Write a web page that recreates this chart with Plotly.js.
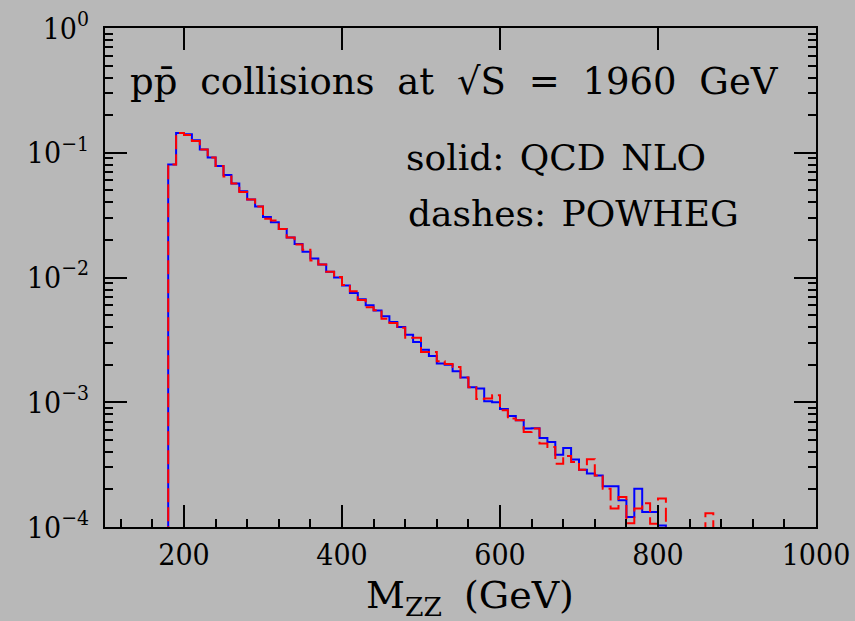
<!DOCTYPE html>
<html>
<head>
<meta charset="utf-8">
<script src="https://cdn.plot.ly/plotly-3.0.1.min.js"></script>
<style>
html,body{margin:0;padding:0;background:#b8b8b8;}
#chart{width:855px;height:621px;}
.annotation[data-index="0"] text{word-spacing:11px;}
.annotation[data-index="1"] text{word-spacing:4px;}
.annotation[data-index="2"] text{word-spacing:4px;}
.annotation[data-index="3"] text{word-spacing:10px;}
</style>
</head>
<body>
<div id="chart"></div>
<script>
// Lower edges of the 10 GeV M_ZZ bins (GeV)
const binLow = [180,190,200,210,220,230,240,250,260,270,280,290,300,310,320,330,340,350,360,370,
  380,390,400,410,420,430,440,450,460,470,480,490,500,510,520,530,540,550,560,570,
  580,590,600,610,620,630,640,650,660,670,680,690,700,710,720,730,740,750,760,770,
  780,790,800,810,820,830,840,850,860];
const binWidth = 10;

// QCD NLO (solid blue)
const nloValues = [0.0804,0.144,0.141,0.126,0.106,0.0914,0.0783,0.0664,0.0566,0.0491,
  0.0421,0.0370,0.0305,0.0277,0.0245,0.0209,0.0186,0.0161,0.0142,0.0127,
  0.0111,0.0100,0.00861,0.00750,0.00668,0.00598,0.00543,0.00490,0.00440,0.00401,
  0.00347,0.00304,0.00264,0.00235,0.00204,0.00200,0.00177,0.00158,0.00132,0.00129,
  0.00102,0.00100,0.000881,0.000776,0.000716,0.000615,0.000619,0.000516,0.000480,0.000380,
  0.000430,0.000347,0.000288,0.000268,0.000259,0.000212,0.000212,0.000164,0.000120,0.000203,
  0.000132,0.000132,0.000103];

// POWHEG (dashed red)
const powhegValues = [0.0804,0.144,0.139,0.124,0.106,0.0914,0.0783,0.0644,0.0566,0.0485,
  0.0421,0.0370,0.0296,0.0287,0.0245,0.0209,0.0184,0.0167,0.0137,0.0127,
  0.0111,0.0101,0.00871,0.00776,0.00661,0.00578,0.00547,0.00468,0.00432,0.00396,
  0.00329,0.00329,0.00253,0.00253,0.00213,0.00203,0.00192,0.00158,0.00132,0.00106,
  0.00107,0.00114,0.000861,0.000740,0.000716,0.000578,0.000615,0.000466,0.000438,0.000322,
  0.000371,0.000332,0.000288,0.000349,0.000259,0.000203,0.000141,0.000174,0.000107,0.000141,
  0.000155,0.000106,0.000169,0,0,0,0,0,0.000129];

const yTickVals = [1e-4,1e-3,1e-2,1e-1,1];
const yTickText = ['10<sup>−4</sup>','10<sup>−3</sup>','10<sup>−2</sup>','10<sup>−1</sup>','10<sup>0</sup>'];

const FLOOR = 1e-7; // below the visible range, used for empty bins / histogram ends
function stepXY(vals){
  const xs=[binLow[0]], ys=[FLOOR];
  for(let i=0;i<vals.length;i++){ xs.push(binLow[i]); ys.push(vals[i]>0?vals[i]:FLOOR); }
  xs.push(binLow[vals.length-1]+binWidth); ys.push(FLOOR);
  return {xs, ys};
}
const nlo = stepXY(nloValues), pw = stepXY(powhegValues);

const minorY=[];
for(let e=-4;e<0;e++){ for(let d=2;d<=9;d++){ minorY.push(d*Math.pow(10,e)); } }

const tickFont = {family:'DejaVu Serif Condensed, DejaVu Serif', size:30, color:'black'};
const txtFont = {family:'DejaVu Serif', size:37, color:'black'};
const txtFont2 = {family:'DejaVu Serif', size:36, color:'black'};

const traces = [
  {x:nlo.xs, y:nlo.ys, type:'scatter', mode:'lines', line:{shape:'hv', color:'#0000ff', width:2}, hoverinfo:'skip'},
  {x:pw.xs, y:pw.ys, type:'scatter', mode:'lines', line:{shape:'hv', color:'#ff0000', width:2, dash:'14px,5px'}, hoverinfo:'skip'},
  {x:[], y:[], xaxis:'x2', type:'scatter', mode:'lines', showlegend:false}
];

const layout = {
  width:855, height:621,
  margin:{l:105, r:39, t:28, b:94},
  paper_bgcolor:'#b8b8b8', plot_bgcolor:'#b8b8b8',
  showlegend:false,
  font:{family:'DejaVu Serif', color:'black'},
  xaxis:{range:[100,1000], tickmode:'linear', tick0:0, dtick:200,
    ticks:'inside', ticklen:22, tickwidth:2, tickcolor:'black',
    showline:true, linewidth:2, linecolor:'black', mirror:true,
    showgrid:false, zeroline:false, tickfont:tickFont, ticklabelstandoff:0,
    minor:{tickmode:'linear', tick0:0, dtick:40, ticks:'inside', ticklen:8, tickwidth:2, tickcolor:'black', showgrid:false}},
  xaxis2:{range:[100,1000], overlaying:'x', side:'top', anchor:'y', tickmode:'linear', tick0:0, dtick:200,
    ticks:'inside', ticklen:22, tickwidth:2, tickcolor:'black', showticklabels:false,
    showline:false, showgrid:false, zeroline:false},
  yaxis:{type:'log', range:[-4,0], tickmode:'array', tickvals:yTickVals, ticktext:yTickText,
    ticks:'inside', ticklen:22, tickwidth:2, tickcolor:'black',
    showline:true, linewidth:2, linecolor:'black', mirror:'ticks',
    showgrid:false, zeroline:false, tickfont:tickFont, ticklabelstandoff:8,
    minor:{tickmode:'array', tickvals:minorY, ticks:'inside', ticklen:8, tickwidth:2, tickcolor:'black', showgrid:false}},
  annotations:[
    {text:'pp̄ collisions at √S = 1960 GeV', xref:'paper', yref:'paper', x:0.079, y:0.892, xanchor:'left', yanchor:'middle', showarrow:false, font:txtFont},
    {text:'solid: QCD NLO', xref:'paper', yref:'paper', x:0.426, y:0.741, xanchor:'left', yanchor:'middle', showarrow:false, font:txtFont2},
    {text:'dashes: POWHEG', xref:'paper', yref:'paper', x:0.426, y:0.629, xanchor:'left', yanchor:'middle', showarrow:false, font:txtFont2},
    {text:'M<sub>ZZ</sub> (GeV)', xref:'paper', yref:'paper', x:0.514, y:-0.141, xanchor:'center', yanchor:'middle', showarrow:false, font:{family:'DejaVu Serif', size:38, color:'black'}}
  ]
};

Plotly.newPlot('chart', traces, layout, {staticPlot:true, displayModeBar:false});
</script>
</body>
</html>
